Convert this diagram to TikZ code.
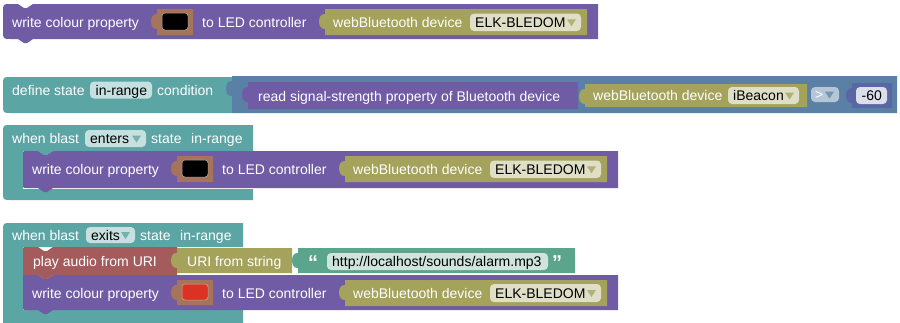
\documentclass[tikz,border=0pt]{standalone}
\usepackage{fontspec}
\setmainfont{Liberation Sans}

% block colours
\definecolor{bpurple}{HTML}{705BA5}
\definecolor{bolive}{HTML}{A5A25B}
\definecolor{bbrown}{HTML}{A5745B}
\definecolor{bteal}{HTML}{5BA5A5}
\definecolor{blogic}{HTML}{5B80A5}
\definecolor{bmath}{HTML}{5B67A5}
\definecolor{btext}{HTML}{5BA58C}
\definecolor{bred}{HTML}{A55B5B}
\definecolor{ledred}{HTML}{DC3223}

% statement block: colour, x1, y1, x2, y2, top-left radius, bottom-left radius
\newcommand\stmtblock[7]{%
  \fill[#1] (#2,{#3+#6}) .. controls (#2,#3) .. ({#2+#6},#3) -- ({#2+15},#3)
    -- ({#2+21},{#3+4}) -- ({#2+24},{#3+4}) -- ({#2+30},#3) -- (#4,#3) -- (#4,#5)
    -- ({#2+30},#5) -- ({#2+24},{#5+4}) -- ({#2+21},{#5+4}) -- ({#2+15},#5)
    -- ({#2+#7},#5) .. controls (#2,#5) .. (#2,{#5-#7}) -- cycle;}
% value block with its output tab on the left: colour, x1, y1, x2, y2
\newcommand\valblock[5]{%
  \fill[#1] (#2,#3) -- (#4,#3) -- (#4,#5) -- (#2,#5) -- (#2,{#3+20})
    .. controls ({#2-8},{#3+21}) and ({#2-8},{#3+4}) .. (#2,{#3+5}) -- cycle;}
% field background: colour, x1, y1, x2, y2
\newcommand\fieldbox[5]{\fill[#1,rounded corners=4pt] (#2,#3) rectangle (#4,#5);}
% dropdown arrow: colour, right end of field, top, bottom
\newcommand\ddarrow[4]{%
  \fill[#1] ({#2-14},{(#3+#4)/2-3}) -- ({#2-5},{(#3+#4)/2-3}) -- ({#2-9.5},{(#3+#4)/2+4}) -- cycle;}
% colour swatch inside a colour field: colour, x1, y1, x2, y2
\newcommand\swatch[5]{%
  \fill[#1,rounded corners=3pt] (#2,#3) rectangle (#4,#5);
  \draw[bbrown!60!white,line width=0.5pt,rounded corners=3pt] (#2,#3) rectangle (#4,#5);}

\tikzset{
  lbl/.style={anchor=base west, inner sep=0pt, text=white, font=\fontsize{14}{16}\selectfont},
  ftxt/.style={lbl, text=black},
  qtxt/.style={lbl, font=\fontsize{20}{20}\selectfont\bfseries},
}

\begin{document}
\begin{tikzpicture}[x=1pt,y=-1pt]
\useasboundingbox (0,0) rectangle (900,322);
\clip (0,0) rectangle (900,322);

% ---- write colour property (stand-alone)
\stmtblock{bpurple}{3}{4}{598}{39}{8}{8}
\node[lbl] (a1) at (12,27) {write colour property};
\valblock{bbrown}{157}{9}{193}{35}
\swatch{black}{162}{13}{188}{30}
\node[lbl] (a2) at (202,27) {to LED controller};
\valblock{bolive}{325}{9}{587}{35}
\node[lbl] (a3) at (333,27) {webBluetooth device};
\fieldbox{white!65!bolive}{470}{13.5}{581}{31}
\node[ftxt] (a4) at (475,27.5) {ELK-BLEDOM};
\ddarrow{bolive!85!white}{581}{13.5}{31}

% ---- define state condition
\fill[bteal] (3,85) .. controls (3,77) .. (11,77) -- (232,77) -- (232,113)
  -- (11,113) .. controls (3,113) .. (3,105) -- cycle;
\node[lbl] (d1) at (12,95) {define state};
\fieldbox{white!65!bteal}{90}{81.5}{152}{98.5}
\node[ftxt] (d2) at (95.5,95) {in-range};
\node[lbl] (d3) at (157,95) {condition};
\valblock{blogic}{232}{76}{897}{113}
\valblock{bpurple}{248}{82}{578}{109}
\node[lbl] (d4) at (258,101) {read signal-strength property of Bluetooth device};
\valblock{bolive}{585}{84}{807}{107}
\node[lbl] (d5) at (593,100.5) {webBluetooth device};
\fieldbox{white!65!bolive}{728}{87}{799}{104}
\node[ftxt] (d6) at (733,100.5) {iBeacon};
\ddarrow{bolive!85!white}{799}{87}{104}
\fieldbox{white!55!blogic}{811}{87}{839}{102}
\node[lbl] (d7) at (815,99.5) {>};
\ddarrow{blogic!85!white}{839}{87}{102}
\valblock{bmath}{852}{83}{892}{108}
\fieldbox{white!78!bmath}{856}{87}{887}{104}
\node[ftxt] (d8) at (861.5,100.5) {-60};

% ---- when blast enters state
\fill[bteal] (3,133) .. controls (3,125) .. (11,125) -- (253,125) -- (253,151)
  -- (53,151) -- (47,155) -- (44,155) -- (38,151) -- (23,151) -- (23,189)
  -- (253,189) -- (253,200) -- (11,200) .. controls (3,200) .. (3,192) -- cycle;
\node[lbl] (e1) at (12,143) {when blast};
\fieldbox{white!65!bteal}{85}{130}{146}{147}
\node[ftxt] (e2) at (90,143.5) {enters};
\ddarrow{bteal!85!white}{146}{130}{147}
\node[lbl] (e3) at (151,143) {state};
\node[lbl] (e4) at (191,143) {in-range};
\stmtblock{bpurple}{23}{151}{618}{188}{4}{4}
\node[lbl] (e5) at (32,174) {write colour property};
\valblock{bbrown}{177}{156}{213}{182}
\swatch{black}{182}{160}{208}{177}
\node[lbl] (e6) at (222,174) {to LED controller};
\valblock{bolive}{345}{156}{607}{182}
\node[lbl] (e7) at (353,174) {webBluetooth device};
\fieldbox{white!65!bolive}{490}{160.5}{601}{178}
\node[ftxt] (e8) at (495,174.5) {ELK-BLEDOM};
\ddarrow{bolive!85!white}{601}{160.5}{178}

% ---- when blast exits state
\fill[bteal] (3,231) .. controls (3,223) .. (11,223) -- (243,223) -- (243,247)
  -- (23,247) -- (23,310) -- (243,310) -- (243,340) -- (3,340) -- cycle;
\node[lbl] (x1) at (12,240) {when blast};
\fieldbox{white!65!bteal}{86}{227}{135}{243}
\node[ftxt] (x2) at (91,240) {exits};
\ddarrow{bteal!85!white}{135}{227}{243}
\node[lbl] (x3) at (140,240) {state};
\node[lbl] (x4) at (180,240) {in-range};
\stmtblock{bpurple}{23}{275}{618}{310}{0}{4}
\stmtblock{bred}{23}{247}{177}{275}{4}{0}
\node[lbl] (x5) at (33,266) {play audio from URI};
\valblock{bolive}{177}{248}{292}{273}
\node[lbl] (x6) at (187,266) {URI from string};
\valblock{btext}{298}{248}{575}{273}
\node[qtxt] (x7) at (308,269) {“};
\fieldbox{white!70!btext}{327}{253}{548}{270}
\node[ftxt] (x8) at (332,266.5) {http://localhost/sounds/alarm.mp3};
\node[qtxt] (x9) at (552,269) {”};
\node[lbl] (x10) at (32,298) {write colour property};
\valblock{bbrown}{177}{280}{213}{305}
\swatch{ledred}{182}{284}{208}{300}
\node[lbl] (x11) at (222,298) {to LED controller};
\valblock{bolive}{345}{280}{607}{306}
\node[lbl] (x12) at (353,298) {webBluetooth device};
\fieldbox{white!65!bolive}{490}{284}{601}{302}
\node[ftxt] (x13) at (495,298.5) {ELK-BLEDOM};
\ddarrow{bolive!85!white}{601}{284}{302}
\end{tikzpicture}
\end{document}
